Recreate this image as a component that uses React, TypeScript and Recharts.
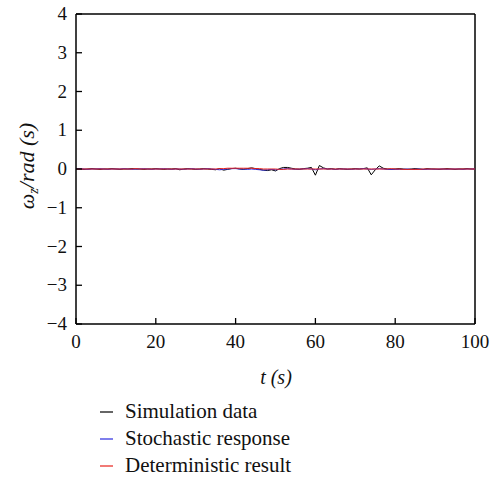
import { LineChart, Line, XAxis, YAxis, ReferenceLine } from "recharts";

const time = [
  0, 1, 2, 3, 4, 5, 6, 7, 8, 9, 10, 11, 12, 13, 14, 15, 16, 17, 18, 19,
  20, 21, 22, 23, 24, 25, 26, 27, 28, 29, 30, 31, 32, 33, 34, 35, 36, 37, 38, 39,
  40, 41, 42, 43, 44, 45, 46, 47, 48, 49, 50, 51, 52, 53, 54, 55, 56, 57, 58, 59,
  60, 61, 62, 63, 64, 65, 66, 67, 68, 69, 70, 71, 72, 73, 74, 75, 76, 77, 78, 79,
  80, 81, 82, 83, 84, 85, 86, 87, 88, 89, 90, 91, 92, 93, 94, 95, 96, 97, 98, 99, 100,
];

const simulation = [
  0, 0, -0.01, 0, 0.01, 0, -0.01, 0, 0, 0.01,
  0, -0.01, 0, 0, 0.01, 0, 0, -0.01, 0, 0,
  0.01, 0, -0.01, 0, 0, 0.01, -0.02, 0, 0.01, 0,
  -0.01, 0, 0.01, 0, -0.01, -0.02, 0.01, -0.03, -0.01, 0.01,
  0.02, 0, -0.01, 0.01, 0.03, 0.01, -0.01, -0.03, -0.04, -0.02,
  -0.05, 0.01, 0.04, 0.04, 0.02, 0, -0.01, 0.01, 0.02, 0.04,
  -0.16, 0.09, 0.03, 0, 0.01, -0.01, 0.01, 0, -0.01, 0,
  0.01, 0, 0.01, 0.03, -0.15, -0.02, 0.08, 0.02, 0, -0.01,
  0, 0.01, 0, -0.01, 0, 0.01, 0, -0.01, 0.01, 0,
  0, -0.01, 0, 0.01, 0, -0.01, 0, 0, 0.01, 0, 0,
];

const stochastic = [
  0, 0.01, 0, -0.01, 0, 0, 0.01, 0, -0.01, 0,
  0, 0, 0.01, 0, -0.01, 0, 0, 0.01, 0, -0.01,
  0, 0, 0.01, 0, -0.01, 0, 0, -0.01, 0, 0.01,
  0, -0.01, 0, 0.01, 0, -0.01, -0.02, -0.01, 0, 0.01,
  0.01, 0, 0, -0.01, 0, -0.01, -0.02, -0.03, -0.02, -0.01,
  -0.02, -0.01, 0, 0.01, 0, -0.01, 0, 0, 0.01, 0,
  -0.02, 0, 0.01, 0, 0, -0.01, 0, 0, 0, -0.01,
  0, 0, 0.01, 0, -0.01, 0, 0.01, 0, -0.01, -0.01,
  -0.01, -0.01, -0.01, 0, -0.01, -0.01, 0, -0.01, -0.01, 0,
  -0.01, 0, 0, -0.01, 0, 0, 0, -0.01, 0, 0, 0,
];

const deterministic = [
  0, 0, 0, 0, 0, 0, 0, 0, 0, 0,
  0, 0, 0, 0, 0, 0.01, 0, 0, 0, 0,
  0, 0, 0, 0, 0, 0, 0, 0, 0, 0,
  0, 0, 0, 0, 0, 0, 0.01, 0.01, 0.02, 0.02,
  0.02, 0.02, 0.02, 0.02, 0.02, 0.01, 0.01, 0, 0, 0,
  0, -0.01, -0.01, 0, 0, 0, 0, 0, 0, 0,
  0, 0, 0, 0, 0, 0, 0, 0, 0, 0,
  0, 0, 0, 0, 0, 0, 0, 0, 0, 0.01,
  0, 0, -0.01, -0.01, -0.01, -0.01, -0.01, 0, 0, 0,
  0, 0, 0, 0, 0, 0, 0, 0, 0, 0, 0,
];

const xTicks = [0, 20, 40, 60, 80, 100];
const yTicks = [-4, -3, -2, -1, 0, 1, 2, 3, 4];

const seriesInfo = [
  { key: "sim", label: "Simulation data", color: "#000000" },
  { key: "sto", label: "Stochastic response", color: "#2a2ae0" },
  { key: "det", label: "Deterministic result", color: "#e8221b" },
];

const data = time.map((t, i) => ({
  t,
  sim: simulation[i],
  sto: stochastic[i],
  det: deterministic[i],
}));

const FONT = "'Liberation Serif', 'Times New Roman', serif";
const fmt = (v: number) => String(v).replace("-", "\u2212");

// inward tick marks, matlab style
function XTick(props: any) {
  const { x, y, payload } = props;
  return (
    <g>
      <line x1={x} x2={x} y1={y} y2={y - 6} stroke="#000" strokeWidth={1.3} />
      <text x={x} y={y + 24} textAnchor="middle" fontFamily={FONT} fontSize={19} fill="#111">
        {fmt(payload.value)}
      </text>
    </g>
  );
}

function YTick(props: any) {
  const { x, y, payload } = props;
  return (
    <g>
      <line x1={x} x2={x + 6} y1={y} y2={y} stroke="#000" strokeWidth={1.3} />
      <text x={x - 9} y={y + 6} textAnchor="end" fontFamily={FONT} fontSize={19} fill="#111">
        {fmt(payload.value)}
      </text>
    </g>
  );
}

function LegendBox() {
  return (
    <div style={{ position: "absolute", left: 100, top: 398, fontFamily: FONT, fontSize: 21, color: "#111" }}>
      {seriesInfo.map((s) => (
        <div key={s.key} style={{ display: "flex", alignItems: "center", height: 27 }}>
          <svg width={13} height={4} style={{ marginRight: 12 }}>
            <line x1={0} x2={13} y1={2} y2={2} stroke={s.color} strokeWidth={1.2} />
          </svg>
          <span>{s.label}</span>
        </div>
      ))}
    </div>
  );
}

export default function App() {
  return (
    <div style={{ position: "absolute", left: 0, top: 0, width: 501, height: 481, background: "#fff" }}>
      <LineChart
        width={501}
        height={481}
        data={data}
        margin={{ top: 14, right: 26, left: 0, bottom: 127 }}
      >
        <XAxis
          dataKey="t"
          type="number"
          domain={[0, 100]}
          ticks={xTicks}
          tickLine={false}
          tickSize={0}
          tickMargin={0}
          height={30}
          stroke="#000"
          strokeWidth={1.5}
          tick={<XTick />}
          label={{
            content: () => (
              <text x={276} y={384} textAnchor="middle" fontFamily={FONT} fontSize={20} fontStyle="italic" fill="#111">
                t (s)
              </text>
            ),
          }}
        />
        <YAxis
          type="number"
          domain={[-4, 4]}
          ticks={yTicks}
          tickLine={false}
          tickSize={0}
          tickMargin={0}
          width={76}
          stroke="#000"
          strokeWidth={1.5}
          tick={<YTick />}
          label={{
            content: () => (
              <text
                x={0}
                y={0}
                transform="translate(34,166) rotate(-90)"
                textAnchor="middle"
                fontFamily={FONT}
                fontSize={22}
                fontStyle="italic"
                fill="#111"
              >
                ω<tspan fontSize={14} dy={4}>z</tspan>
                <tspan dy={-4}>/rad (s)</tspan>
              </text>
            ),
          }}
        />
        <ReferenceLine y={4} stroke="#000" strokeWidth={1.5} />
        <ReferenceLine x={100} stroke="#000" strokeWidth={1.5} />
        {seriesInfo.map((s) => (
          <Line
            key={s.key}
            type="linear"
            dataKey={s.key}
            stroke={s.color}
            strokeWidth={1}
            dot={false}
            isAnimationActive={false}
          />
        ))}
      </LineChart>
      <LegendBox />
    </div>
  );
}
